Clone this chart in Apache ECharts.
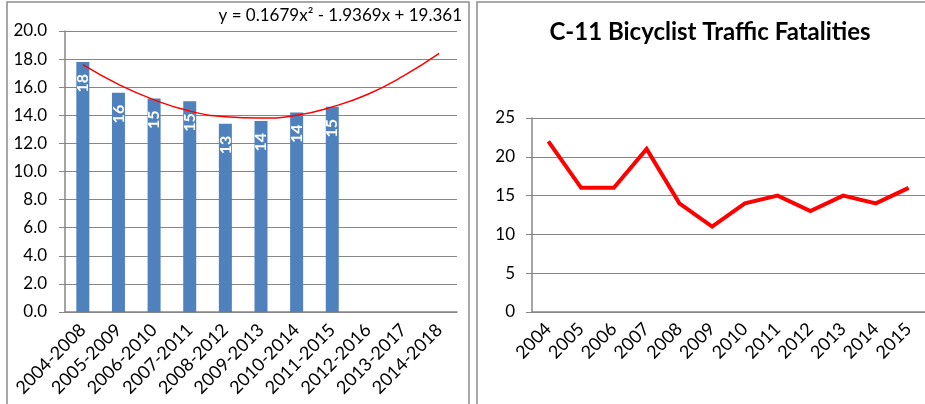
<!DOCTYPE html>
<html>
<head>
<meta charset="utf-8">
<script src="https://cdn.jsdelivr.net/npm/echarts@6/dist/echarts.min.js"></script>
<style>
  html, body { margin: 0; padding: 0; background: #fff; }
  #main { width: 925px; height: 404px; }
</style>
</head>
<body>
<div id="main"></div>
<script>
// 5年滚动平均（左图）
const periods = ['2004-2008', '2005-2009', '2006-2010', '2007-2011', '2008-2012', '2009-2013',
  '2010-2014', '2011-2015', '2012-2016', '2013-2017', '2014-2018']
const avgValues = [17.8, 15.6, 15.2, 15.0, 13.4, 13.6, 14.2, 14.6]
// 趋势线
const trendValues = [17.6, 16.2, 15.1, 14.3, 13.9, 13.8, 14.0, 14.6, 15.5, 16.8, 18.4]
const trendText = 'y = 0.1679x² - 1.9369x + 19.361'

// 每年死亡人数（右图）
const years = ['2004', '2005', '2006', '2007', '2008', '2009', '2010', '2011', '2012', '2013', '2014', '2015']
const fatalities = [22, 16, 16, 21, 14, 11, 14, 15, 13, 15, 14, 16]
const chartTitle = 'C-11 Bicyclist Traffic Fatalities'

const font = 'Lato'
const gray = '#868686'

let chart = echarts.init(document.getElementById('main'))

const option = {
  animation: false,
  textStyle: { fontFamily: font },
  title: {
    text: chartTitle,
    left: 705,
    top: 15,
    textAlign: 'center',
    textStyle: { fontFamily: font, fontSize: 24, fontWeight: 'bold', color: '#000' }
  },
  graphic: [
    { type: 'rect', shape: { x: 7, y: 2, width: 462, height: 420 },
      style: { fill: 'none', stroke: '#8c8c8c', lineWidth: 1.5 }, silent: true },
    { type: 'rect', shape: { x: 477, y: 2, width: 470, height: 420 },
      style: { fill: 'none', stroke: '#8c8c8c', lineWidth: 1.5 }, silent: true },
    { type: 'text', right: 925 - 462, top: 7,
      style: { text: trendText, font: '17px Lato', fill: '#000' } }
  ],
  grid: [
    { left: 65, top: 31, width: 392, height: 281 },
    { left: 532, top: 118, width: 396, height: 194 }
  ],
  xAxis: [
    {
      type: 'category', gridIndex: 0, data: periods,
      axisLine: { lineStyle: { color: gray, width: 1.5 } },
      axisTick: { alignWithLabel: false, length: 5, lineStyle: { color: gray } },
      axisLabel: { rotate: 45, margin: 15, interval: 0, color: '#000', fontSize: 18, fontFamily: font }
    },
    {
      type: 'category', gridIndex: 1, data: years,
      axisLine: { lineStyle: { color: gray, width: 1.5 } },
      axisTick: { length: 5, lineStyle: { color: gray } },
      axisLabel: { rotate: 45, margin: 14, interval: 0, color: '#000', fontSize: 18, fontFamily: font }
    }
  ],
  yAxis: [
    {
      type: 'value', gridIndex: 0, min: 0, max: 20, interval: 2,
      axisLine: { show: true, lineStyle: { color: gray, width: 1.5 } },
      axisTick: { show: true, length: 6, lineStyle: { color: gray } },
      splitLine: { lineStyle: { color: gray, width: 1 } },
      axisLabel: { margin: 18, color: '#000', fontSize: 17, fontFamily: font,
        formatter: v => v.toFixed(1) }
    },
    {
      type: 'value', gridIndex: 1, min: 0, max: 25, interval: 5,
      axisLine: { show: true, lineStyle: { color: gray, width: 1.5 } },
      axisTick: { show: true, length: 6, lineStyle: { color: gray } },
      splitLine: { lineStyle: { color: gray, width: 1 } },
      axisLabel: { margin: 17, color: '#000', fontSize: 17, fontFamily: font }
    }
  ],
  series: [
    {
      type: 'bar', xAxisIndex: 0, yAxisIndex: 0,
      data: avgValues,
      barWidth: 13,
      itemStyle: { color: '#4F81BD' },
      label: {
        show: true, position: 'insideTop', rotate: 90, distance: 12,
        align: 'right', verticalAlign: 'middle',
        color: '#fff', fontSize: 16, fontWeight: 'bold', fontFamily: font,
        formatter: p => Math.round(p.value)
      }
    },
    {
      type: 'line', xAxisIndex: 0, yAxisIndex: 0,
      data: trendValues, smooth: true, symbol: 'none',
      lineStyle: { color: '#ff0000', width: 1.5 }
    },
    {
      type: 'line', xAxisIndex: 1, yAxisIndex: 1,
      data: fatalities, symbol: 'none',
      lineStyle: { color: '#ff0000', width: 4, join: 'miter' }
    }
  ]
}

chart.setOption(option)
</script>
</body>
</html>
